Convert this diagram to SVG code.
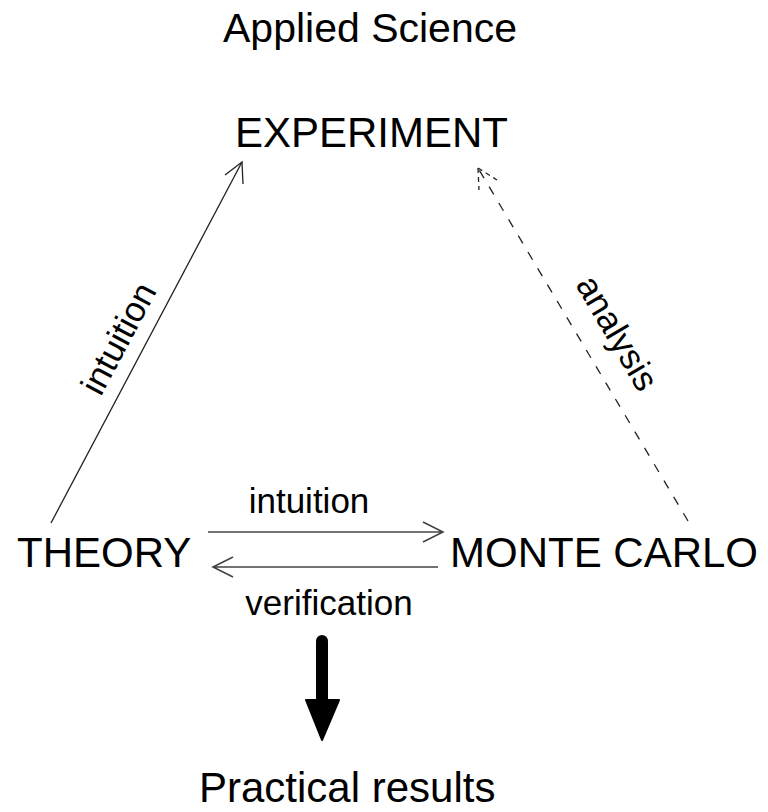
<svg xmlns="http://www.w3.org/2000/svg" width="768" height="812" viewBox="0 0 768 812">
  <defs>
    <style>
      .big { font-family: "Liberation Sans", Arial, sans-serif; font-size: 42px; fill: #000; }
      .lbl { font-family: "Liberation Sans", Arial, sans-serif; font-size: 35px; fill: #000; }
      .ln { stroke: #222; stroke-width: 1.3; fill: none; }
      .hl { stroke: #444; stroke-width: 1.6; fill: none; }
      .dash { stroke: #222; stroke-width: 1.3; fill: none; stroke-dasharray: 9 10; }
    </style>
  </defs>
  <rect width="768" height="812" fill="#fff"/>
  <g id="title"><text class="big" x="370" y="42" text-anchor="middle" style="font-size:41px">Applied Science</text></g>
  <g id="experiment"><text class="big" x="371.5" y="147" text-anchor="middle">EXPERIMENT</text></g>
  <g id="theory"><text class="big" x="17" y="567">THEORY</text></g>
  <g id="montecarlo"><text class="big" x="450" y="567">MONTE CARLO</text></g>
  <g id="practical"><text class="big" x="199" y="802">Practical results</text></g>
  <g id="connectors">
    <path class="ln" d="M51,523 L242,162"/>
    <path class="ln" d="M225,175 L242,162 L243,184"/>
    <text class="lbl" transform="translate(129,344) rotate(-62)" text-anchor="middle">intuition</text>
    <path class="dash" d="M688,521 L478,168"/>
    <path class="dash" style="stroke-dasharray:5 4" d="M478,168 L479,190 M478,168 L497,180"/>
    <text class="lbl" transform="translate(607,339) rotate(59.5)" text-anchor="middle">analysis</text>
    <path class="hl" d="M208,532 L443,532 M423,522 L443,532 L423,542"/>
    <text class="lbl" x="309" y="513" text-anchor="middle">intuition</text>
    <path class="hl" d="M438,567 L213,567 M233,557 L213,567 L233,577"/>
    <text class="lbl" x="329" y="615" text-anchor="middle">verification</text>
    <path d="M322,641 L322,702" stroke="#000" stroke-width="12" stroke-linecap="round" fill="none"/>
    <path d="M306,700 L339,700 L322,740 Z" fill="#000" stroke="#000" stroke-width="2" stroke-linejoin="round"/>
  </g>
</svg>
